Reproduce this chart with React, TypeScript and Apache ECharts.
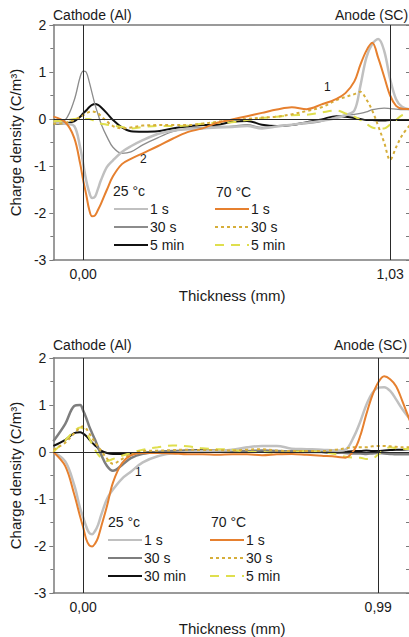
import React, { useEffect, useRef } from "react";
import * as echarts from "echarts";

// Shared thickness sampling positions (mm)
const X_MM = [
  -0.1, -0.06, -0.03, -0.01, 0, 0.01, 0.02, 0.03, 0.04, 0.05,
  0.06, 0.08, 0.1, 0.13, 0.16, 0.2, 0.25, 0.3, 0.35, 0.4,
  0.45, 0.5, 0.55, 0.6, 0.65, 0.7, 0.75, 0.8, 0.85, 0.88,
  0.91, 0.93, 0.95, 0.97, 0.99, 1.01, 1.03, 1.05, 1.07, 1.1,
];

// Panel 1 (top)
const P1_25_1S = [
  -0.08, -0.1, -0.15, -0.6, -0.95, -1.3, -1.55, -1.68, -1.65, -1.48,
  -1.3, -1.02, -0.88, -0.7, -0.58, -0.45, -0.32, -0.25, -0.22, -0.2,
  -0.18, -0.17, -0.15, -0.2, -0.16, -0.12, -0.08, -0.04, 0.02, 0.08,
  0.18, 0.7, 1.3, 1.6, 1.7, 1.45, 0.85, 0.42, 0.26, 0.2,
];
const P1_25_30S = [
  -0.12, -0.02, 0.4, 0.9, 1.02, 1.0, 0.8, 0.55, 0.3, 0.1,
  -0.1, -0.38, -0.6, -0.73, -0.7, -0.55, -0.4, -0.27, -0.2, -0.18,
  -0.16, -0.15, -0.12, -0.18, -0.15, -0.12, -0.1, -0.05, 0.05, 0.08,
  0.1, 0.12, 0.15, 0.2, 0.22, 0.23, 0.22, 0.21, 0.2, 0.2,
];
const P1_25_5MIN = [
  -0.1, -0.09, -0.05, 0.05, 0.12, 0.18, 0.25, 0.3, 0.32, 0.3,
  0.25, 0.12, -0.02, -0.18, -0.26, -0.27, -0.26, -0.2, -0.16, -0.13,
  -0.12, -0.06, -0.04, -0.12, -0.15, -0.13, -0.07, -0.01, 0.06, 0.05,
  0.02, 0.0, -0.02, -0.02, -0.03, -0.03, -0.02, -0.02, -0.02, -0.02,
];
const P1_70_1S = [
  0.05, -0.07, -0.4, -0.95, -1.3, -1.6, -1.92, -2.07, -2.05, -1.93,
  -1.8, -1.5, -1.22, -0.96, -0.85, -0.73, -0.58, -0.42, -0.28, -0.2,
  -0.08, -0.01, 0.06, 0.13, 0.2, 0.25, 0.21, 0.31, 0.43, 0.55,
  0.8, 1.15, 1.45, 1.62, 1.3, 0.9, 0.5, 0.28, 0.22, 0.21,
];
const P1_70_30S = [
  -0.1, -0.08, -0.02, 0.04, 0.08, 0.12, 0.15, 0.16, 0.15, 0.12,
  0.06, -0.05, -0.15, -0.2, -0.18, -0.14, -0.13, -0.13, -0.13, -0.1,
  -0.06, -0.02, 0.0, 0.03, 0.05, 0.1, 0.17, 0.25, 0.4, 0.47,
  0.53, 0.58, 0.42, 0.18, -0.15, -0.5, -0.87, -0.6, -0.35, -0.1,
];
const P1_70_5MIN = [
  -0.05, -0.03, 0.0, 0.02, 0.02, 0.0, 0.0, -0.02, -0.05, -0.08,
  -0.1, -0.12, -0.14, -0.17, -0.2, -0.17, -0.15, -0.15, -0.14, -0.1,
  -0.08, -0.07, -0.02, 0.02, 0.05, 0.08, 0.09, 0.14, 0.18, 0.12,
  0.05, -0.02, -0.1, -0.18, -0.2, -0.2, -0.12, -0.02, 0.08, 0.12,
];

// Panel 2 (bottom)
const P2_25_1S = [
  0.0, -0.2, -0.7, -1.2, -1.39, -1.58, -1.72, -1.75, -1.68, -1.55,
  -1.35, -1.0, -0.8, -0.57, -0.42, -0.22, -0.09, -0.03, 0.0, 0.02,
  0.03, 0.05, 0.1, 0.13, 0.13, 0.07, 0.06, 0.05, 0.03, 0.05,
  0.35, 0.65, 1.0, 1.25, 1.37, 1.38, 1.3, 1.12, 0.92, 0.67,
];
const P2_25_30S = [
  0.23, 0.6, 0.98, 1.0, 0.88, 0.73, 0.55, 0.4, 0.26, 0.1,
  -0.05, -0.3, -0.4, -0.28, -0.13, -0.04, 0.0, 0.02, 0.02, 0.02,
  0.03, 0.02, 0.02, 0.03, 0.02, 0.01, 0.0, 0.0, -0.01, -0.02,
  -0.03, -0.03, -0.04, -0.03, -0.02, -0.03, -0.04, -0.05, -0.05, -0.05,
];
const P2_25_30MIN = [
  0.13, 0.26, 0.4, 0.42, 0.39, 0.34, 0.27, 0.2, 0.14, 0.08,
  0.03, -0.02, -0.04, -0.04, -0.03, -0.02, 0.0, 0.02, 0.03, 0.04,
  0.03, 0.02, 0.0, 0.02, 0.0, 0.01, 0.02, 0.0, -0.02, 0.0,
  0.02, 0.02, 0.03, 0.02, 0.02, 0.03, 0.04, 0.05, 0.05, 0.06,
];
const P2_70_1S = [
  0.0, -0.3, -0.9, -1.38, -1.6, -1.85, -1.98, -2.01, -1.95, -1.82,
  -1.6, -1.15, -0.65, -0.24, -0.07, -0.02, -0.02, -0.03, -0.05, -0.05,
  -0.06, -0.05, -0.05, -0.07, -0.05, -0.04, -0.06, -0.08, -0.1, -0.12,
  0.05, 0.35, 0.8, 1.2, 1.48, 1.61, 1.55, 1.4, 1.1, 0.6,
];
const P2_70_30S = [
  0.05, 0.2, 0.4, 0.52, 0.55, 0.5, 0.4, 0.3, 0.2, 0.12,
  0.03, -0.14, -0.25, -0.15, -0.05, 0.02, 0.03, 0.04, 0.05, 0.04,
  0.04, 0.03, 0.05, 0.06, 0.03, 0.02, 0.02, 0.02, 0.05, 0.08,
  0.1, 0.1, 0.1, 0.12, 0.13, 0.13, 0.12, 0.11, 0.1, 0.1,
];
const P2_70_5MIN = [
  0.0, 0.25, 0.44, 0.52, 0.5, 0.42, 0.3, 0.17, 0.05, -0.05,
  -0.12, -0.19, -0.15, -0.08, -0.02, 0.05, 0.1, 0.14, 0.12, 0.08,
  0.06, 0.05, 0.0, 0.0, -0.02, 0.0, 0.02, 0.0, -0.05, -0.1,
  -0.12, -0.12, -0.15, -0.14, -0.05, 0.05, 0.1, 0.08, 0.07, 0.06,
];

const P1_XTICKS = [0, 1.03];
const P2_XTICKS = [0, 0.99];
const Y_TICKS = [2, 1, 0, -1, -2, -3];

const FONT = "'Liberation Sans', Arial, sans-serif";
const AXIS_COLOR = "#7a7a7a";
const TEXT_COLOR = "#1a1a1a";

const pairs = (ys: number[]) => X_MM.map((x, i) => [x, ys[i]]);

export default function App() {
  const ref = useRef<HTMLDivElement>(null);

  useEffect(() => {
    if (!ref.current) return;
    const chart = echarts.init(ref.current, undefined, { renderer: "svg" });

    const grids = [
      { left: 50, top: 25, width: 361, height: 235 },
      { left: 50, top: 358, width: 361, height: 236 },
    ];

    const xAxes: any[] = [];
    const yAxes: any[] = [];
    const ticksByPanel = [P1_XTICKS, P2_XTICKS];
    [0, 1].forEach((g) => {
      xAxes.push({
        type: "value",
        gridIndex: g,
        min: -0.1,
        max: 1.1,
        position: "bottom",
        name: "Thickness (mm)",
        nameLocation: "middle",
        nameGap: 28,
        nameTextStyle: { fontFamily: FONT, fontSize: 15, color: TEXT_COLOR },
        axisLine: { show: true, onZero: false, lineStyle: { color: AXIS_COLOR, width: 1.5 } },
        axisTick: { show: false },
        splitLine: { show: false },
        axisLabel: {
          customValues: ticksByPanel[g],
          formatter: (v: number) => v.toFixed(2).replace(".", ","),
          fontFamily: FONT,
          fontSize: 14,
          color: TEXT_COLOR,
          margin: 7,
        },
      });
      xAxes.push({
        type: "value",
        gridIndex: g,
        min: -0.1,
        max: 1.1,
        position: "top",
        axisLine: { show: true, onZero: false, lineStyle: { color: AXIS_COLOR, width: 1.5 } },
        axisTick: { show: false },
        axisLabel: { show: false },
        splitLine: { show: false },
      });
      yAxes.push({
        type: "value",
        gridIndex: g,
        min: -3,
        max: 2,
        interval: 1,
        position: "left",
        name: "Charge density (C/m³)",
        nameLocation: "middle",
        nameGap: 24,
        nameRotate: 90,
        nameTextStyle: { fontFamily: FONT, fontSize: 15, color: TEXT_COLOR },
        axisLine: { show: true, onZero: false, lineStyle: { color: AXIS_COLOR, width: 1.5 } },
        axisTick: { show: true, inside: false, length: 4, lineStyle: { color: AXIS_COLOR } },
        minorTick: { show: true, splitNumber: 2, length: 3, lineStyle: { color: AXIS_COLOR } },
        splitLine: { show: false },
        minorSplitLine: { show: false },
        axisLabel: {
          formatter: (v: number) => (Y_TICKS.includes(v) ? String(v) : ""),
          fontFamily: FONT,
          fontSize: 14,
          color: TEXT_COLOR,
          margin: 7,
        },
      });
      yAxes.push({
        type: "value",
        gridIndex: g,
        min: -3,
        max: 2,
        interval: 0.5,
        position: "right",
        axisLine: { show: true, onZero: false, lineStyle: { color: AXIS_COLOR, width: 1.5 } },
        axisTick: { show: true, inside: true, length: 5, lineStyle: { color: AXIS_COLOR } },
        axisLabel: { show: false },
        splitLine: { show: false },
      });
    });

    const mk = (
      name: string,
      g: number,
      ys: number[],
      color: string,
      width: number,
      type: any = "solid",
      z = 3
    ) => ({
      type: "line",
      name,
      xAxisIndex: g * 2,
      yAxisIndex: g * 2,
      data: pairs(ys),
      smooth: 0.35,
      symbol: "none",
      z,
      lineStyle: { color, width, type },
      itemStyle: { color },
    });

    const refLines = (g: number, xs: number[]) => ({
      type: "line",
      name: "ref" + g,
      xAxisIndex: g * 2,
      yAxisIndex: g * 2,
      data: [[0, 0]],
      symbol: "none",
      z: 1,
      lineStyle: { opacity: 0 },
      silent: true,
      markLine: {
        silent: true,
        symbol: ["none", "none"],
        label: { show: false },
        lineStyle: { color: "#2a2a2a", width: 1, type: "solid" },
        data: [...xs.map((x) => ({ xAxis: x })), { yAxis: 0 }],
      },
    });

    const LG = "#c0c0c0";
    const MG = "#8c8c8c";
    const DG = "#7e7e7e";
    const BK = "#111111";
    const OR = "#e6802f";
    const GD = "#d6ae3a";
    const YL = "#dfdf4e";

    const series: any[] = [
      refLines(0, P1_XTICKS),
      refLines(1, P2_XTICKS),
      mk("a1|5 min", 0, P1_25_5MIN, BK, 2),
      mk("a1|30 s", 0, P1_25_30S, MG, 1.3),
      mk("a1|1 s", 0, P1_25_1S, LG, 2.5),
      mk("b1|5 min", 0, P1_70_5MIN, YL, 2, [9, 7]),
      mk("b1|30 s", 0, P1_70_30S, GD, 2, [3, 3]),
      mk("b1|1 s", 0, P1_70_1S, OR, 2),
      mk("a2|30 min", 1, P2_25_30MIN, BK, 2),
      mk("a2|30 s", 1, P2_25_30S, DG, 2.5),
      mk("a2|1 s", 1, P2_25_1S, LG, 2.5),
      mk("b2|5 min", 1, P2_70_5MIN, YL, 2, [9, 7]),
      mk("b2|30 s", 1, P2_70_30S, GD, 2, [3, 3]),
      mk("b2|1 s", 1, P2_70_1S, OR, 2),
    ];

    const legend = (data: string[], left: number, top: number) => ({
      data,
      left,
      top,
      orient: "vertical",
      padding: 0,
      itemWidth: 34,
      itemHeight: 14,
      itemGap: 4,
      selectedMode: false,
      itemStyle: { opacity: 0 },
      formatter: (n: string) => n.split("|")[1],
      textStyle: { fontFamily: FONT, fontSize: 14, color: TEXT_COLOR, lineHeight: 14, padding: [0, 0, 0, -3] },
    });

    const txt = (text: string, left: number, top: number, size = 14) => ({
      type: "text",
      left,
      top,
      silent: true,
      style: { text, fill: TEXT_COLOR, font: `${size}px ${FONT}` },
    });

    chart.setOption({
      animation: false,
      backgroundColor: "#ffffff",
      grid: grids,
      xAxis: xAxes,
      yAxis: yAxes,
      series,
      legend: [
        legend(["a1|1 s", "a1|30 s", "a1|5 min"], 113, 202),
        legend(["b1|1 s", "b1|30 s", "b1|5 min"], 214, 202),
        legend(["a2|1 s", "a2|30 s", "a2|30 min"], 107, 533),
        legend(["b2|1 s", "b2|30 s", "b2|5 min"], 209, 533),
      ],
      graphic: [
        txt("Cathode (Al)", 53, 8),
        txt("Anode (SC)", 335, 8),
        txt("Cathode (Al)", 53, 338),
        txt("Anode (SC)", 334, 338),
        txt("25 °c", 113, 184),
        txt("70 °C", 216, 185),
        txt("25 °c", 108, 515),
        txt("70 °C", 211, 515),
        txt("1", 324, 81, 12),
        txt("2", 140, 153, 12),
        txt("1", 135, 466, 12),
      ],
    });

    return () => chart.dispose();
  }, []);

  return (
    <div
      style={{
        position: "absolute",
        left: 0,
        top: 0,
        width: 409,
        height: 637,
        overflow: "hidden",
        background: "#fff",
      }}
    >
      <div ref={ref} style={{ width: 420, height: 637 }} />
    </div>
  );
}
